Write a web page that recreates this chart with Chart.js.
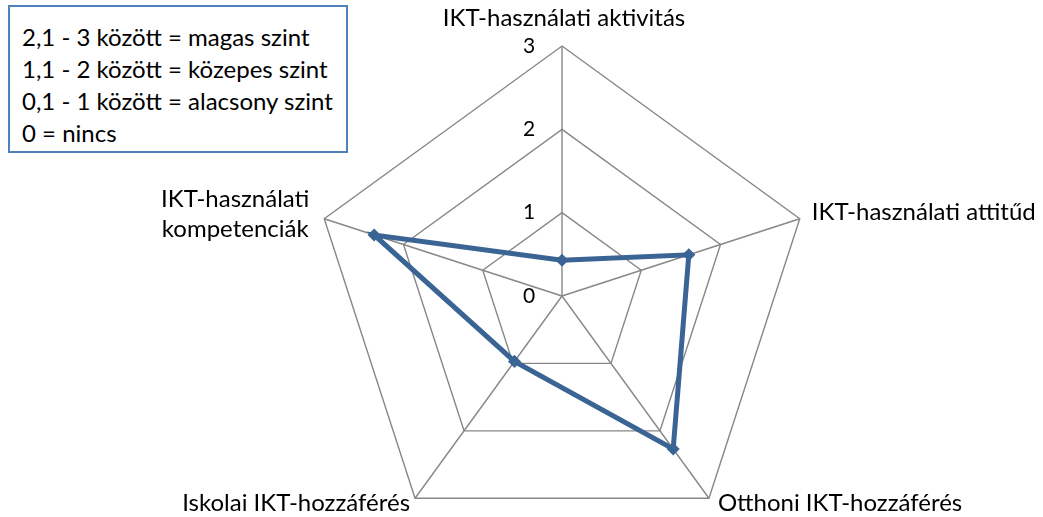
<!DOCTYPE html>
<html>
<head>
<meta charset="utf-8">
<script src="https://cdn.jsdelivr.net/npm/chart.js"></script>
<style>
  html, body { margin: 0; padding: 0; background: #fff; overflow: hidden; }
  #wrap { position: absolute; left: 0; top: 0; width: 1043px; height: 620px; }
  #note {
    position: absolute; left: 8px; top: 5px; width: 340px; height: 148px;
    box-sizing: border-box; border: 2px solid #4F81BD; background: #fff;
    padding: 14px 0 0 12px; font: 24px Lato, "Open Sans", sans-serif;
    line-height: 32px; color: #000; z-index: 2; white-space: nowrap;
  }
</style>
</head>
<body>
<div id="wrap"><canvas id="chart" width="1043" height="620"></canvas></div>
<div id="note">
  <div>2,1 - 3 között = magas szint</div>
  <div>1,1 - 2 között = közepes szint</div>
  <div>0,1 - 1 között = alacsony szint</div>
  <div>0 = nincs</div>
</div>
<script>
const categories = [
  "IKT-használati aktivitás",
  "IKT-használati attitűd",
  "Otthoni IKT-hozzáférés",
  "Iskolai IKT-hozzáférés",
  ["IKT-használati", "kompetenciák"]
];
const values = [0.43, 1.6, 2.27, 0.97, 2.37];
const tickValues = [0, 1, 2, 3];

const labelFont = '24px Lato, "Open Sans", sans-serif';

// axis labels and tick numbers, placed from the scale's own positions
const labelPlugin = {
  id: "labelPlugin",
  afterDraw(chart) {
    const scale = chart.scales.r;
    const ctx = chart.ctx;
    ctx.save();
    ctx.fillStyle = "#000";
    ctx.font = labelFont;
    ctx.textBaseline = "middle";
    const place = [
      { align: "center", dx: 2, dy: -28 },
      { align: "left", dx: 12, dy: -6 },
      { align: "left", dx: 9, dy: 5 },
      { align: "right", dx: -5, dy: 5 },
      { align: "center", dx: -89, dy: -19 }
    ];
    categories.forEach((lab, i) => {
      const p = scale.getPointPosition(i, scale.drawingArea);
      const s = place[i];
      ctx.textAlign = s.align;
      const lines = Array.isArray(lab) ? lab : [lab];
      lines.forEach((line, j) => {
        ctx.fillText(line, p.x + s.dx, p.y + s.dy + j * 30);
      });
    });
    ctx.font = '21px Lato, "Open Sans", sans-serif';
    ctx.textAlign = "center";
    tickValues.forEach(v => {
      const p = scale.getPointPositionForValue(0, v);
      ctx.fillText(String(v), p.x - 33, p.y);
    });
    ctx.restore();
  }
};

new Chart(document.getElementById("chart"), {
  type: "radar",
  data: {
    labels: categories,
    datasets: [{
      data: values,
      borderColor: "#3A6494",
      backgroundColor: "rgba(0,0,0,0)",
      borderWidth: 5,
      pointRadius: 3,
      pointStyle: "rectRot",
      pointBackgroundColor: "#3A6494",
      pointBorderColor: "#3A6494",
      fill: false
    }]
  },
  options: {
    responsive: false,
    animation: false,
    layout: { padding: { left: 312, right: 231, top: 46, bottom: 74 } },
    plugins: { legend: { display: false }, tooltip: { enabled: false } },
    scales: {
      r: {
        min: 0,
        max: 3,
        ticks: { stepSize: 1, display: false },
        pointLabels: { display: false },
        grid: { color: "#878787", lineWidth: 1.4 },
        angleLines: { color: "#878787", lineWidth: 1.4 }
      }
    }
  },
  plugins: [labelPlugin]
});
</script>
</body>
</html>
